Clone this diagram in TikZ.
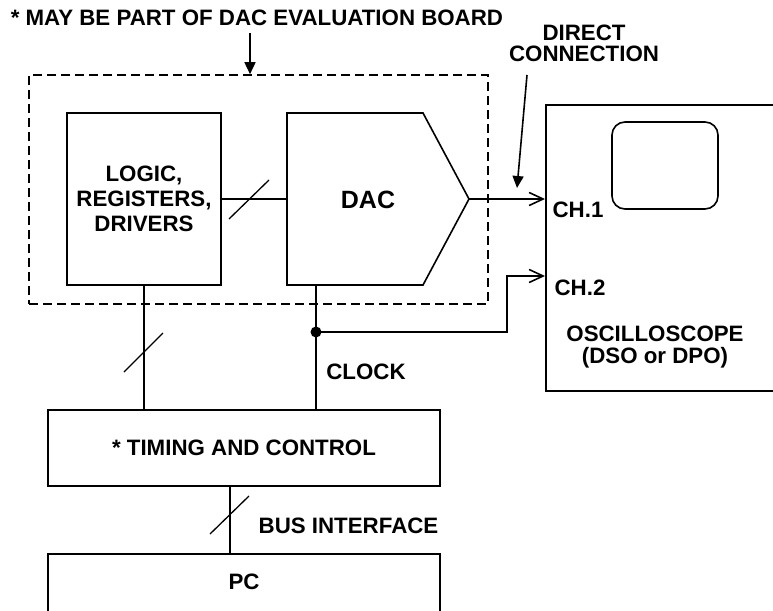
\documentclass[tikz,border=0pt]{standalone}
\usepackage{fontspec}
\setmainfont{Liberation Sans}
\usetikzlibrary{arrows.meta}
\begin{document}
\begin{tikzpicture}[x=1pt,y=-1pt, line width=1.6pt,
  lbl/.style={font=\fontsize{22.3}{25}\selectfont\bfseries, inner sep=0pt, align=center},
  blk/.style={draw, rectangle, inner sep=0pt},
  openarrow/.style={-{Straight Barb[length=14pt,width=13pt]}},
  filledarrow/.style={-{Triangle[length=12pt,width=11pt]}},
  slash/.style={line width=1.3pt},
  board/.style={draw, dash pattern=on 9pt off 5pt, inner sep=0pt}
]
\clip (0,0) rectangle (773,610);
% evaluation board outline
\node[board, minimum width=459pt, minimum height=229pt] (boardbox) at (258.5,189.5) {};
% logic box
\node[blk, lbl, minimum width=154pt, minimum height=172pt] (logic) at (144,199) {LOGIC,\\REGISTERS,\\DRIVERS};
% DAC shape
\coordinate (dacin) at (287,199);
\coordinate (dacout) at (469,199);
\coordinate (dacclk) at (316,285);
\draw (287,113) -- (423,113) -- (dacout) -- (423,285) -- (287,285) -- cycle;
\node[lbl, font=\fontsize{25}{28}\selectfont\bfseries] (dac) at (368,200) {DAC};
% oscilloscope
\node[blk, minimum width=240pt, minimum height=286pt, anchor=north west] (osc) at (545,104) {};
\node[draw, rounded corners=13pt, minimum width=106pt, minimum height=87pt, inner sep=0pt] (screen) at (665,165.5) {};
\node[lbl] (ch1) at (578,210) {CH.1};
\node[lbl] (ch2) at (580,288) {CH.2};
\node[lbl, font=\fontsize{22.3}{22.5}\selectfont\bfseries] (osclbl) at (655,347) {OSCILLOSCOPE\\(DSO or DPO)};
% timing and PC
\node[blk, lbl, minimum width=392pt, minimum height=76pt] (timing) at (244,448) {* TIMING AND CONTROL};
\node[blk, minimum width=392pt, minimum height=80pt, anchor=north] (pc) at (244,553) {};
\node[lbl] (pclbl) at (244,582) {PC};
% labels
\node[lbl, anchor=west] (title) at (10,18) {* MAY BE PART OF DAC EVALUATION BOARD};
\node[lbl, font=\fontsize{22.3}{21.5}\selectfont\bfseries] (direct) at (584,43.5) {DIRECT\\CONNECTION};
\node[lbl] (clock) at (366,372) {CLOCK};
\node[lbl] (buslbl) at (348.5,526) {BUS INTERFACE};
% connectors
\draw (logic.east |- dacin) -- (dacin);
\draw[slash] (229,219) -- (269,180);
\draw (logic.south) -- (logic.south |- timing.north);
\draw[slash] (124,372) -- (163,333);
\coordinate (dot) at (316,332);
\draw (dacclk) -- (dacclk |- timing.north);
\fill (dot) circle (5.5pt);
\coordinate (ch2in) at (545,276);
\draw[openarrow] (dacout) -- (dacout -| osc.west);
\draw[openarrow] (dot) -- (507,332) |- (ch2in);
\coordinate (bus) at (230,486);
\draw (bus) -- (bus |- pc.north);
\draw[slash] (210,534) -- (249,496);
% pointer arrows
\coordinate (tA) at (250,33);
\draw[filledarrow] (tA) -- (tA |- boardbox.north);
\coordinate (dcA) at (527,75);
\coordinate (dcB) at (517,188);
\draw[filledarrow] (dcA) -- (dcB);
\end{tikzpicture}
\end{document}
